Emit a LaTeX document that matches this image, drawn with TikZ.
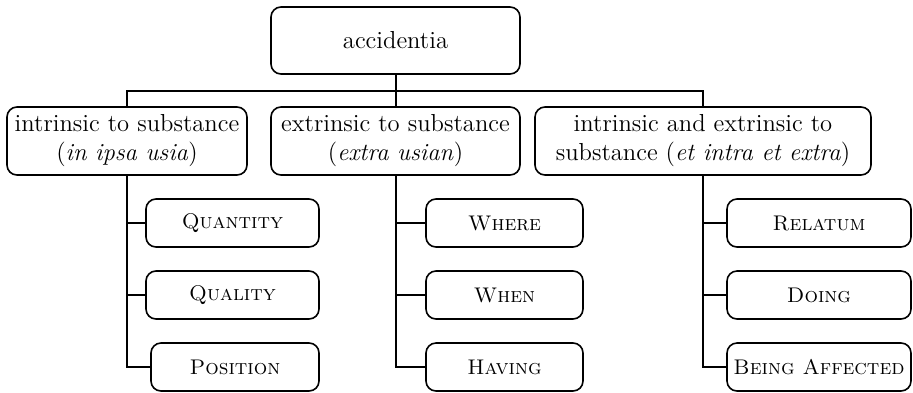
\documentclass[tikz,border=0pt]{standalone}
\usetikzlibrary{calc}
\begin{document}
\begin{tikzpicture}[x=0.5pt,y=-0.5pt,
  box/.style={draw, line width=0.8pt, rounded corners=5pt, align=center,
    inner sep=0pt, font=\fontsize{12.3}{14.5}\selectfont},
  topbox/.style={box, minimum height=34pt},
  leaf/.style={box, minimum height=24pt, font=\fontsize{10.6}{12.5}\selectfont\scshape},
  link/.style={line width=1pt}]
\useasboundingbox (0,0) rectangle (913,392);

% root
\node[box, minimum width=124.5pt, minimum height=33.5pt] (acc) at (395.5,40.5) {accidentia};

% second level
\node[topbox, minimum width=120pt] (intr) at (127,141)
  {intrinsic to substance\\(\textit{in ipsa usia})};
\node[topbox, minimum width=124.5pt] (extr) at (395.5,141)
  {extrinsic to substance\\(\textit{extra usian})};
\node[topbox, minimum width=168pt] (both) at (703,141)
  {intrinsic and extrinsic to\\substance (\textit{et intra et extra})};

% leaves under "intrinsic"
\node[leaf, minimum width=86.5pt] (quant) at (232.5,223) {Quantity};
\node[leaf, minimum width=86.5pt] (qual) at (232.5,295) {Quality};
\node[leaf, minimum width=84pt] (pos) at (235,367) {Position};

% leaves under "extrinsic"
\node[leaf, minimum width=78.5pt] (where) at (504.5,223) {Where};
\node[leaf, minimum width=78.5pt] (when) at (504.5,295) {When};
\node[leaf, minimum width=78.5pt] (having) at (504.5,367) {Having};

% leaves under "intrinsic and extrinsic"
\node[leaf, minimum width=92pt] (rel) at (819,223) {Relatum};
\node[leaf, minimum width=92pt] (doing) at (819,295) {Doing};
\node[leaf, minimum width=92pt] (aff) at (819,367) {Being Affected};

% root to second level
\coordinate (bus) at ($(acc.south)!0.5!(extr.north)$);
\draw[link] (acc.south) -- (extr.north);
\draw[link] (bus) -| (intr.north);
\draw[link] (bus) -| (both.north);

% second level to leaves
\foreach \p/\c in {intr/quant, intr/qual, intr/pos,
                   extr/where, extr/when, extr/having,
                   both/rel, both/doing, both/aff}
  \draw[link] (\p.south) |- (\c.west);
\end{tikzpicture}
\end{document}
